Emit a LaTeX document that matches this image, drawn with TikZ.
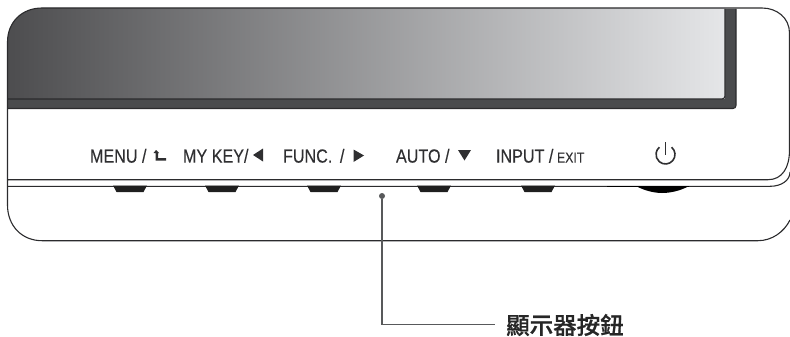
\documentclass[tikz,border=0pt]{standalone}
\usepackage{fontspec}
\setmainfont{Liberation Sans}
\newfontfamily\lblfont[FakeStretch=0.85,FakeBold=0.25]{Liberation Sans}
\newfontfamily\cjkfont[FakeBold=0.7]{Noto Sans CJK TC Medium}
\definecolor{bezel}{HTML}{4A4B4D}
\definecolor{outl}{HTML}{2B2B2D}
\definecolor{txt}{HTML}{2F2F31}
\definecolor{lead}{HTML}{58595B}
\tikzset{
  lbl/.style={anchor=base west,inner sep=0pt,outer sep=0pt,text=txt,font=\lblfont\fontsize{19}{22}\selectfont},
  smalllbl/.style={lbl,font=\lblfont\fontsize{14.5}{16}\selectfont},
  edge/.style={draw=outl,line width=1.1pt},
  keybtn/.style={fill=black!88},
  glyph/.style={fill=txt,draw=none}
}
\begin{document}
\begin{tikzpicture}[x=1pt,y=-1pt]
\useasboundingbox (0,0) rectangle (790,337);
% screen + bezel
\fill[bezel] (7.5,99) -- (725,99) -- (725,9) -- (736,9) -- (736,105) arc[start angle=0,end angle=90,radius=3.5] -- (7.5,108.5) -- cycle;
\shade[shading=axis,shading angle=90,
  left color={rgb,255:red,77;green,77;blue,79},
  middle color={rgb,255:red,142;green,143;blue,146},
  right color={rgb,255:red,229;green,230;blue,232}]
  (7.5,42) .. controls (7.5,22) and (22,8) .. (42,8) -- (725,8) -- (725,96) arc[start angle=0,end angle=90,radius=3] -- (7.5,99) -- cycle;
\draw[edge] (7.5,99) -- (722,99) arc[start angle=90,end angle=0,radius=3] -- (725,9);
\draw[edge] (7.5,108.5) -- (733,108.5) arc[start angle=90,end angle=0,radius=3] -- (736,9);
% outer outline
\draw[edge] (7.5,205) -- (7.5,42) .. controls (7.5,22) and (22,8) .. (42,8) -- (762,8) .. controls (777,8) and (789.5,18) .. (789.5,33) -- (789.5,150)
  .. controls (789.5,168) and (782,179.7) .. (768,179.7) -- (7.5,179.7);
\draw[edge] (7.5,186.3) -- (770,186.3) .. controls (782,186.3) and (790,180) .. (790,172);
\draw[edge] (7.5,205) .. controls (7.5,226) and (22,240.7) .. (42,240.7) -- (758,240.7) .. controls (772,240.7) and (784,232) .. (790,220);
% keys
\foreach \k/\x in {a/113,b/205,c/307,d/417,e/521}{
  \fill[keybtn] (\x,185.5) -- (\x+34,185.5) -- (\x+30.5,192) -- (\x+3.5,192) -- cycle;
}
% power wheel
\fill[black] (636,186) .. controls (645,191) and (655,193) .. (662,193) .. controls (670,193) and (680,191) .. (689,186) -- cycle;
\draw[line width=1pt,black] (607,186.5) -- (689,186.5);
% labels
\node[lbl] (menu) at (90,162.6) {MENU /};
\node[lbl] (mykey) at (183,162.6) {MY KEY/};
\node[lbl] (func) at (283,162.6) {FUNC. \,/};
\node[lbl] (auto) at (396,162.6) {AUTO /};
\node[lbl] (input) at (496,162.6) {INPUT /};
\node[smalllbl] (exit) at (557,162.6) {EXIT};
% glyphs
\fill[glyph] (156,150) -- (159,153) -- (158,153) -- (158,158) -- (166,158) -- (166,160.5) -- (155.5,160.5) -- (155.5,153) -- (153.5,153) -- cycle;
\fill[glyph] (253,155) -- (263,148.5) -- (263,161.5) -- cycle;
\fill[glyph] (364,155.5) -- (353.5,149.5) -- (353.5,162) -- cycle;
\fill[glyph] (458,150) -- (471,150) -- (464.5,160.5) -- cycle;
\draw[line width=1.6pt,txt] (671.6,147.2) arc[start angle=-50,end angle=230,radius=9.5];
\draw[line width=1.6pt,txt] (665.5,142) -- (665.5,155);
% leader
\node[circle,fill=lead,inner sep=0pt,minimum size=6pt] (dot) at (382,196) {};
\coordinate (elbow) at (382,324.5);
\node[anchor=west,inner sep=0pt,text=black!85,font=\cjkfont\fontsize{23.5}{26}\selectfont] (cap) at (506,325) {顯示器按鈕};
\coordinate (leadend) at (495,324.5);
\draw[lead,line width=1.9pt] (dot) -- (elbow) -- (leadend);
\end{tikzpicture}
\end{document}
